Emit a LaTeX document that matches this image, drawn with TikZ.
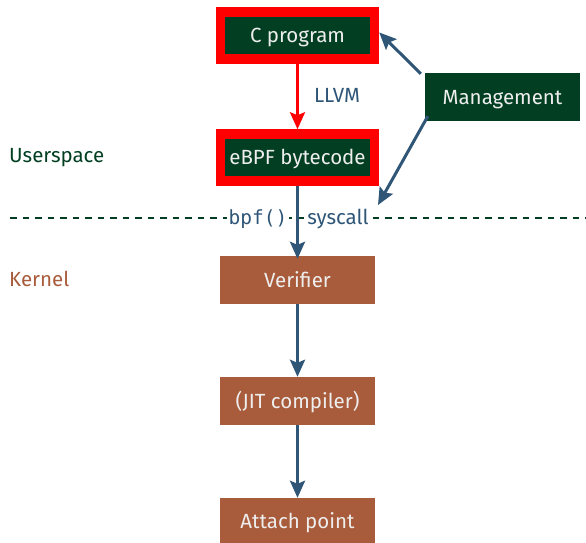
\documentclass[tikz,border=0pt]{standalone}
\usepackage{fontspec}
\setmainfont{Fira Sans}
\newfontfamily\codefont{DejaVu Sans Mono}
\usetikzlibrary{arrows.meta}
\definecolor{ugreen}{HTML}{023F22}
\definecolor{kbrown}{HTML}{A95C3B}
\definecolor{flowblue}{HTML}{2F5577}
\definecolor{boxtext}{HTML}{EEEEEE}
\definecolor{hotred}{HTML}{FF0000}
\tikzset{
  x=1pt, y=-1pt,
  every node/.style={font=\fontsize{20.5}{23}\selectfont, inner sep=0pt,
    text height=14pt, text depth=0pt},
  srcbox/.style={rectangle, fill=ugreen, draw=hotred, line width=9.5pt,
    minimum width=154pt, minimum height=47pt, text=boxtext},
  mgmtbox/.style={rectangle, fill=ugreen, minimum width=155pt, minimum height=48pt, text=boxtext},
  kbox/.style={rectangle, fill=kbrown, minimum width=155pt, minimum height=48pt, text=boxtext},
  flow/.style={draw=flowblue, line width=3pt,
    -{Stealth[length=17pt, width=15pt, inset=3pt]}},
  redflow/.style={draw=hotred, line width=3pt,
    -{Stealth[length=17pt, width=15pt, inset=3pt]}},
  lbl/.style={text=flowblue, fill=white, inner xsep=2pt, inner ysep=4pt},
}
\begin{document}
\begin{tikzpicture}
\useasboundingbox (0,0) rectangle (586,543);

% userspace / kernel boundary
\draw[ugreen, line width=2pt, dash pattern=on 6.5pt off 6pt] (10,218) -- (586,218);
\node[anchor=west, text=ugreen] (user) at (9,155.5) {Userspace};
\node[anchor=west, text=kbrown] (kern) at (9,279.5) {Kernel};

% boxes
\node[srcbox] (cprog) at (297.5,35.5) {C program};
\node[srcbox] (bytecode) at (297.5,157.5) {eBPF bytecode};
\node[mgmtbox] (mgmt) at (502.5,97) {Management};
\node[kbox] (verif) at (297.5,280) {Verifier};
\node[kbox] (jit) at (297.5,401) {(JIT compiler)};
\node[kbox, minimum height=46pt] (attach) at (297.5,521) {Attach point};

% syscall labels on the boundary
\node[lbl, font=\codefont\fontsize{19.5}{22}\selectfont] (bpf) at (258,217) {bpf()};
\node[lbl] (sysc) at (338,217) {syscall};
\coordinate (sysend) at (378,205);

% connectors
\draw[redflow] (cprog.south) -- (bytecode.north)
  node[midway, right=15pt, text=flowblue, yshift=1.5pt] (llvm) {LLVM};
\draw[flow] (bytecode.south) -- ([yshift=-3pt]verif.north);
\draw[flow] (verif.south) -- (jit.north);
\draw[flow] (jit.south) -- (attach.north);
\draw[flow] ([shift={(-4pt,-1pt)}]mgmt.north west) -- ([yshift=3pt]cprog.east);
\draw[flow] ([shift={(3pt,5pt)}]mgmt.south west) -- (sysend);
\end{tikzpicture}
\end{document}
